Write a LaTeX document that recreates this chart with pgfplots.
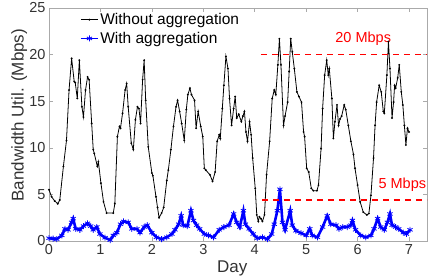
\documentclass[border=0pt]{standalone}
\usepackage{pgfplots}
\pgfplotsset{compat=1.18}
\usepackage{fontspec}
\setmainfont{Liberation Sans}
\definecolor{axgray}{RGB}{170,170,170}
\definecolor{txtgray}{RGB}{50,50,50}
\definecolor{mred}{RGB}{255,0,0}
\begin{document}
\begin{tikzpicture}
\begin{axis}[
  name=ax,
  scale only axis, width=378bp, height=233bp,
  xmin=0, xmax=7.35, ymin=0, ymax=25,
  xtick={0,1,2,3,4,5,6,7}, ytick={0,5,10,15,20,25},
  tick align=inside, tick pos=both,
  major tick length=4bp,
  axis line style={axgray, line width=0.6pt},
  tick style={axgray, line width=0.6pt},
  /pgf/number format/assume math mode=true,
  tick label style={font=\fontsize{14.5bp}{16bp}\selectfont, text=txtgray},
  xlabel={Day}, ylabel={Bandwidth Util. (Mbps)},
  label style={font=\fontsize{17bp}{19bp}\selectfont, text=txtgray},
  xlabel style={at={(axis description cs:0.485,-0.116)}, anchor=center},
  ylabel style={at={(axis description cs:-0.079,0.54)}, anchor=center},
  legend style={draw=none, fill=none, at={(0.075,0.995)}, anchor=north west,
    font=\fontsize{15.5bp}{18bp}\selectfont, text=black, row sep=2bp},
  legend cell align=left,
  clip=true,
]
\addplot[black, line width=0.8pt, mark=*, mark size=0.5pt] coordinates {
(0,5.5)(0.05,4.75)(0.11,4.3)(0.17,4.0)(0.21,4.4)(0.28,8.0)(0.34,10.8)(0.39,16.2)(0.44,19.6)(0.49,17.1)(0.51,17.0)(0.55,15.3)(0.59,19.4)(0.64,14.4)(0.67,13.3)(0.71,16.2)(0.75,17.6)(0.78,17.3)(0.83,12.6)(0.86,9.8)(0.88,9.4)(0.94,8.0)(0.96,8.5)(1.01,6.2)(1.06,4.2)(1.12,3.0)(1.25,3.0)(1.28,4.0)(1.33,11.2)(1.37,12.3)(1.39,12.1)(1.43,13.7)(1.48,16.2)(1.51,16.9)(1.54,14.4)(1.60,10.5)(1.64,9.8)(1.68,13.0)(1.72,14.4)(1.75,14.2)(1.78,12.6)(1.82,17.3)(1.85,19.4)(1.88,15.1)(1.93,10.1)(2.0,7.3)(2.02,7.0)(2.08,4.75)(2.11,3.6)(2.14,2.5)(2.19,3.0)(2.23,3.6)(2.29,6.5)(2.32,7.6)(2.37,9.8)(2.42,12.3)(2.47,14.4)(2.5,15.1)(2.54,13.9)(2.58,12.6)(2.63,10.8)(2.67,14.1)(2.70,15.7)(2.74,16.4)(2.77,15.7)(2.83,15.1)(2.86,12.1)(2.90,13.9)(2.95,12.3)(2.99,11.2)(3.02,7.8)(3.05,7.6)(3.13,7.1)(3.18,6.4)(3.23,7.4)(3.27,10.7)(3.31,11.4)(3.33,11.0)(3.37,14.2)(3.40,16.7)(3.44,19.8)(3.48,18.5)(3.51,15.3)(3.55,12.4)(3.59,14.2)(3.62,15.5)(3.65,13.2)(3.69,13.6)(3.74,12.8)(3.77,13.4)(3.80,13.9)(3.83,11.7)(3.86,10.7)(3.90,12.8)(3.93,11.4)(3.96,8.9)(4.01,5.65)(4.04,2.8)(4.07,2.1)(4.09,2.6)(4.12,2.4)(4.15,2.1)(4.19,2.8)(4.23,7.1)(4.29,10.7)(4.34,15.3)(4.38,16.2)(4.41,15.7)(4.45,18.9)(4.48,21.7)(4.51,18.9)(4.56,12.4)(4.59,13.4)(4.64,14.9)(4.67,18.2)(4.70,21.7)(4.73,20.3)(4.77,18.5)(4.82,16.0)(4.86,15.5)(4.91,14.9)(4.95,11.7)(4.97,11.2)(5.01,7.8)(5.05,7.4)(5.10,5.65)(5.14,5.4)(5.21,5.4)(5.24,6.0)(5.29,9.9)(5.32,14.2)(5.36,17.8)(5.40,19.4)(5.43,17.8)(5.45,18.5)(5.50,15.3)(5.53,11.0)(5.56,12.8)(5.60,14.6)(5.63,12.4)(5.66,13.1)(5.69,13.4)(5.74,14.6)(5.77,14.1)(5.82,12.4)(5.87,10.7)(5.92,9.3)(5.95,7.8)(6.0,6.0)(6.05,4.2)(6.11,3.1)(6.18,2.8)(6.22,2.95)(6.26,4.9)(6.31,8.9)(6.34,12.4)(6.37,14.9)(6.42,16.7)(6.46,16.0)(6.50,13.9)(6.52,13.7)(6.57,17.8)(6.60,21.4)(6.63,18.5)(6.67,13.2)(6.70,14.9)(6.72,16.7)(6.74,16.4)(6.78,17.5)(6.81,18.9)(6.85,16.0)(6.88,14.6)(6.91,12.4)(6.94,10.3)(6.97,12.1)(7.0,11.7)
};
\addlegendentry{Without aggregation}
\addplot[blue, line width=2.6pt, mark=asterisk, mark size=3pt, mark options={line width=0.8pt},
  legend image post style={line width=0.7pt}] coordinates {
(0.0,0.3)(0.08,0.25)(0.15,0.2)(0.25,0.6)(0.31,1.3)(0.37,1.2)(0.44,2.0)(0.47,2.4)(0.52,1.3)(0.6,1.2)(0.67,1.6)(0.75,1.9)(0.81,1.6)(0.86,1.2)(0.93,1.5)(0.99,0.75)(1.09,0.35)(1.19,0.1)(1.25,0.6)(1.32,0.9)(1.39,1.8)(1.45,2.1)(1.54,2.0)(1.61,1.3)(1.71,1.3)(1.77,0.9)(1.85,1.5)(1.91,1.7)(2.0,0.9)(2.09,0.4)(2.19,0.2)(2.29,0.4)(2.39,0.75)(2.45,1.2)(2.52,1.8)(2.57,2.7)(2.61,1.7)(2.69,1.6)(2.76,3.25)(2.81,2.2)(2.87,1.7)(2.93,1.3)(3.02,0.75)(3.1,0.6)(3.2,0.4)(3.31,1.2)(3.40,1.5)(3.50,1.7)(3.59,2.9)(3.65,2.0)(3.71,1.5)(3.78,3.25)(3.82,1.8)(3.89,1.3)(3.97,0.75)(4.05,0.3)(4.15,0.4)(4.25,0.2)(4.33,0.75)(4.38,1.8)(4.44,3.25)(4.49,5.55)(4.54,2.0)(4.59,1.2)(4.69,3.25)(4.73,1.7)(4.8,1.1)(4.9,0.85)(5.0,0.6)(5.07,1.3)(5.12,0.6)(5.22,0.4)(5.32,1.5)(5.41,2.7)(5.48,1.8)(5.58,1.7)(5.64,1.3)(5.71,1.5)(5.80,1.5)(5.87,1.7)(5.90,2.2)(5.96,1.2)(6.06,0.6)(6.16,0.4)(6.26,0.6)(6.32,1.3)(6.39,2.4)(6.45,1.5)(6.52,1.2)(6.58,2.0)(6.63,2.9)(6.67,1.7)(6.74,1.5)(6.80,1.3)(6.89,0.9)(6.95,0.75)(7.02,1.2)
};
\addlegendentry{With aggregation}
\addplot[draw=mred, color=mred, line width=1.3pt, dash pattern=on 6bp off 5bp, forget plot] coordinates {(4.12,20.0)(7.35,20.0)};
\addplot[draw=mred, color=mred, line width=1.3pt, dash pattern=on 6bp off 5bp, forget plot] coordinates {(4.14,4.4)(7.35,4.4)};
\node[text=mred, font=\fontsize{14.5bp}{16bp}\selectfont] at (axis cs:6.11,21.75) {20 Mbps};
\node[text=mred, font=\fontsize{14.5bp}{16bp}\selectfont] at (axis cs:6.87,6.05) {5 Mbps};
\end{axis}
\pgfresetboundingbox
\path ([shift={(-49bp,-37bp)}]ax.south west) rectangle ([shift={(2bp,8bp)}]ax.north east);
\end{tikzpicture}
\end{document}
